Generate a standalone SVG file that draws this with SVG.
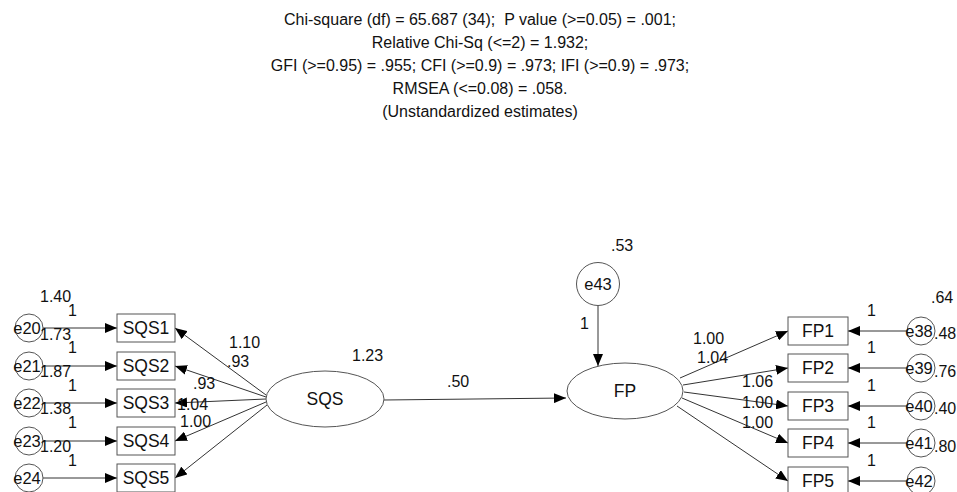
<svg xmlns="http://www.w3.org/2000/svg" width="957" height="492" viewBox="0 0 957 492">
<style>
text{font-family:"Liberation Sans",Arial,sans-serif;fill:#111}
.title{font-size:16px;text-anchor:middle}
.lbl{font-size:17.5px;text-anchor:middle}
.elbl{font-size:16.5px;text-anchor:middle}
.num{font-size:16px}
.box{fill:#fff;stroke:#555;stroke-width:1}
.circ{fill:none;stroke:#555;stroke-width:1}
.ell{fill:#fff;stroke:#555;stroke-width:1}
.con{stroke:#333;stroke-width:1;fill:none;marker-end:url(#arr)}
</style>
<defs>
<marker id="arr" markerUnits="userSpaceOnUse" markerWidth="12" markerHeight="10" refX="12" refY="5" orient="auto">
<path d="M0,0 L12,5 L0,10 z" fill="#000"/>
</marker>
</defs>
<rect width="957" height="492" fill="#fff"/>
<g id="title">
<text class="title" x="480" y="25">Chi-square (df) = 65.687 (34); &#160;P value (&gt;=0.05) = .001;</text>
<text class="title" x="480" y="48">Relative Chi-Sq (&lt;=2) = 1.932;</text>
<text class="title" x="480" y="71">GFI (&gt;=0.95) = .955; CFI (&gt;=0.9) = .973; IFI (&gt;=0.9) = .973;</text>
<text class="title" x="480" y="94">RMSEA (&lt;=0.08) = .058.</text>
<text class="title" x="480" y="117">(Unstandardized estimates)</text>
</g>
<g id="connectors">
<line class="con" x1="43" y1="328" x2="117" y2="328"/>
<line class="con" x1="43" y1="366" x2="117" y2="366"/>
<line class="con" x1="43" y1="403" x2="117" y2="403"/>
<line class="con" x1="43" y1="441" x2="117" y2="441"/>
<line class="con" x1="43" y1="478" x2="117" y2="478"/>
<line class="con" x1="266" y1="395" x2="175" y2="328"/>
<line class="con" x1="266" y1="397" x2="175" y2="366"/>
<line class="con" x1="266" y1="399" x2="175" y2="403"/>
<line class="con" x1="266" y1="402" x2="175" y2="441"/>
<line class="con" x1="267" y1="405" x2="175" y2="478"/>
<line class="con" x1="384" y1="400" x2="566" y2="398"/>
<line class="con" x1="598" y1="305.5" x2="598" y2="366"/>
<line class="con" x1="680" y1="378" x2="788" y2="331"/>
<line class="con" x1="683" y1="385" x2="788" y2="368"/>
<line class="con" x1="684" y1="392" x2="788" y2="406"/>
<line class="con" x1="682" y1="398" x2="788" y2="443"/>
<line class="con" x1="677" y1="406" x2="788" y2="481"/>
<line class="con" x1="907" y1="331" x2="848" y2="331"/>
<line class="con" x1="907" y1="368" x2="848" y2="368"/>
<line class="con" x1="907" y1="406" x2="848" y2="406"/>
<line class="con" x1="907" y1="443" x2="848" y2="443"/>
<line class="con" x1="907" y1="481" x2="848" y2="481"/>
</g>
<g id="e20"><circle class="circ" cx="29" cy="328" r="14"/><text class="elbl" x="27" y="334">e20</text></g>
<g id="e21"><circle class="circ" cx="29" cy="366" r="14"/><text class="elbl" x="27" y="372">e21</text></g>
<g id="e22"><circle class="circ" cx="29" cy="403" r="14"/><text class="elbl" x="27" y="409">e22</text></g>
<g id="e23"><circle class="circ" cx="29" cy="441" r="14"/><text class="elbl" x="27" y="447">e23</text></g>
<g id="e24"><circle class="circ" cx="29" cy="478" r="14"/><text class="elbl" x="27" y="484">e24</text></g>
<g id="SQS1"><rect class="box" x="117" y="314" width="58" height="28"/><text class="lbl" x="146" y="334">SQS1</text></g>
<g id="SQS2"><rect class="box" x="117" y="352" width="58" height="28"/><text class="lbl" x="146" y="372">SQS2</text></g>
<g id="SQS3"><rect class="box" x="117" y="389" width="58" height="28"/><text class="lbl" x="146" y="409">SQS3</text></g>
<g id="SQS4"><rect class="box" x="117" y="427" width="58" height="28"/><text class="lbl" x="146" y="447">SQS4</text></g>
<g id="SQS5"><rect class="box" x="117" y="464" width="58" height="28"/><text class="lbl" x="146" y="484">SQS5</text></g>
<g id="SQS"><ellipse class="ell" cx="325" cy="399" rx="59" ry="28"/><text class="lbl" x="325" y="405">SQS</text></g>
<g id="e43"><circle class="circ" cx="598" cy="284" r="21.5"/><text class="elbl" x="598" y="290">e43</text></g>
<g id="FP"><ellipse class="ell" cx="625" cy="391" rx="58" ry="28"/><text class="lbl" x="625" y="397">FP</text></g>
<g id="FP1"><rect class="box" x="788" y="317" width="60" height="28"/><text class="lbl" x="818" y="337">FP1</text></g>
<g id="FP2"><rect class="box" x="788" y="354" width="60" height="28"/><text class="lbl" x="818" y="374">FP2</text></g>
<g id="FP3"><rect class="box" x="788" y="392" width="60" height="28"/><text class="lbl" x="818" y="412">FP3</text></g>
<g id="FP4"><rect class="box" x="788" y="429" width="60" height="28"/><text class="lbl" x="818" y="449">FP4</text></g>
<g id="FP5"><rect class="box" x="788" y="467" width="60" height="28"/><text class="lbl" x="818" y="487">FP5</text></g>
<g id="e38"><circle class="circ" cx="921" cy="331" r="14"/><text class="elbl" x="919" y="337">e38</text></g>
<g id="e39"><circle class="circ" cx="921" cy="368" r="14"/><text class="elbl" x="919" y="374">e39</text></g>
<g id="e40"><circle class="circ" cx="921" cy="406" r="14"/><text class="elbl" x="919" y="412">e40</text></g>
<g id="e41"><circle class="circ" cx="921" cy="443" r="14"/><text class="elbl" x="919" y="449">e41</text></g>
<g id="e42"><circle class="circ" cx="921" cy="481" r="14"/><text class="elbl" x="919" y="487">e42</text></g>
<g id="labels" class="num">
<text class="num" x="40" y="302">1.40</text>
<text class="num" x="68" y="316">1</text>
<text class="num" x="40" y="340">1.73</text>
<text class="num" x="68" y="353">1</text>
<text class="num" x="40" y="377">1.87</text>
<text class="num" x="68" y="391">1</text>
<text class="num" x="40" y="414">1.38</text>
<text class="num" x="68" y="428">1</text>
<text class="num" x="40" y="452">1.20</text>
<text class="num" x="68" y="466">1</text>
<text class="num" x="229" y="348">1.10</text>
<text class="num" x="227" y="367">.93</text>
<text class="num" x="193" y="389">.93</text>
<text class="num" x="177" y="410">1.04</text>
<text class="num" x="180" y="427">1.00</text>
<text class="num" x="352" y="361">1.23</text>
<text class="num" x="447" y="387">.50</text>
<text class="num" x="611" y="251">.53</text>
<text class="num" x="580" y="329">1</text>
<text class="num" x="693" y="344">1.00</text>
<text class="num" x="697" y="363">1.04</text>
<text class="num" x="742" y="387">1.06</text>
<text class="num" x="742" y="408">1.00</text>
<text class="num" x="742" y="428">1.00</text>
<text class="num" x="867" y="316">1</text>
<text class="num" x="867" y="353">1</text>
<text class="num" x="867" y="391">1</text>
<text class="num" x="867" y="428">1</text>
<text class="num" x="867" y="466">1</text>
<text class="num" x="931" y="303">.64</text>
<text class="num" x="934" y="339">.48</text>
<text class="num" x="934" y="377">.76</text>
<text class="num" x="934" y="414">.40</text>
<text class="num" x="934" y="452">.80</text>
</g>
</svg>
